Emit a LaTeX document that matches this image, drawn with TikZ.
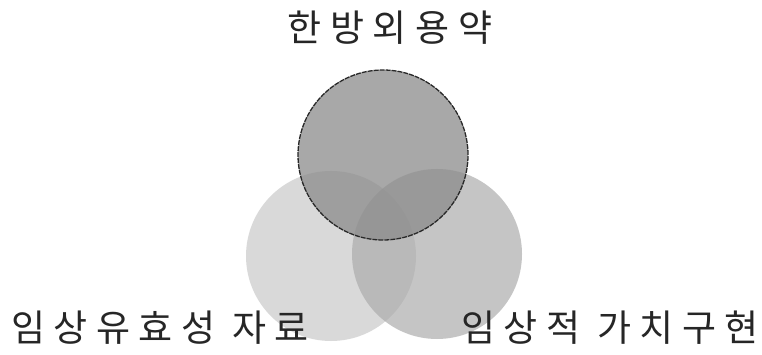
\documentclass[tikz,border=0pt]{standalone}
\usepackage{fontspec}
\setmainfont{Noto Sans CJK KR}
\newfontfamily\krwide[LetterSpace=23]{Noto Sans CJK KR}
\usepackage{tikz}
\usetikzlibrary{positioning}
\definecolor{vnedge}{RGB}{40,40,40}

\begin{document}
\begin{tikzpicture}[
  x=1pt, y=-1pt,
  set/.style={circle, minimum size=170pt, inner sep=0pt},
  setlabel/.style={font=\krwide\fontsize{37}{40}\selectfont, text=black!85}
]
  \useasboundingbox (0,0) rectangle (762,355);

  \node[set, fill=black!15] (efficacy) at (331,256) {};
  \node[set, fill=black!33, fill opacity=0.69] (value) at (437,254) {};
  \node[set, fill=black!45, fill opacity=0.76, draw=vnedge,
        line width=1.3pt, dash pattern=on 5pt off 1pt] (herb) at (383,155) {};

  \node[setlabel] (herblabel) at (390,28) {한방외용약};
  \node[setlabel] (efficacylabel) at (160,328) {임상유효성 자료};
  \node[setlabel] (valuelabel) at (610,328) {임상적 가치구현};
\end{tikzpicture}
\end{document}
